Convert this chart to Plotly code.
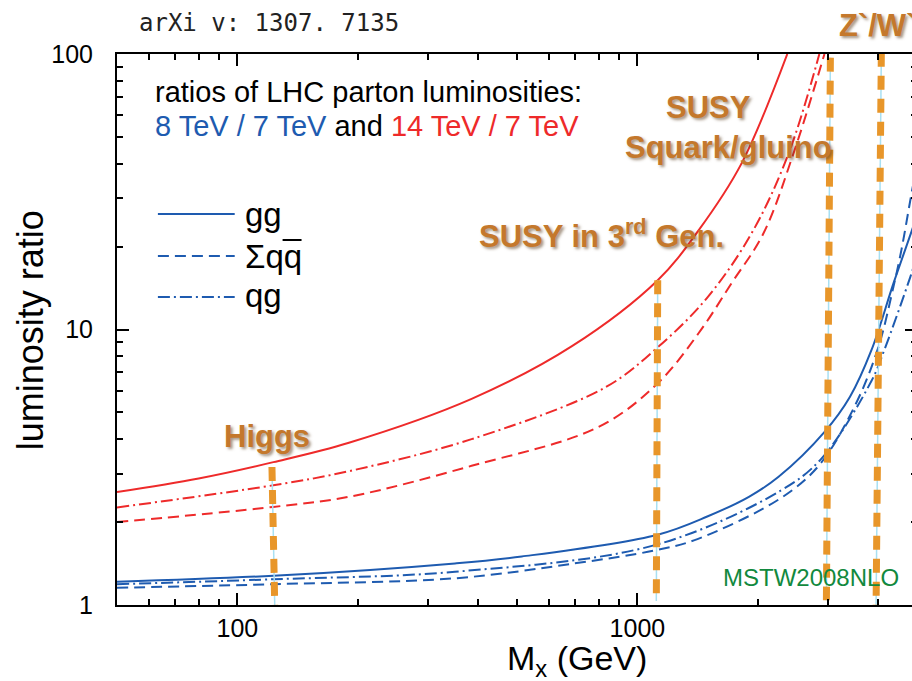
import math
import plotly.graph_objects as go

# ---- ratios of parton luminosities vs. invariant mass M_X (GeV) ----
# 14 TeV / 7 TeV
red_gg_m = [50, 80, 123, 190, 385, 686, 1124, 1422, 1820, 2370]
red_gg_r = [2.57, 2.88, 3.30, 3.88, 5.6, 8.7, 15.1, 22.9, 40.0, 100]
red_qq_m = [50, 123, 190, 385, 800, 1124, 1422, 1718, 2065, 2455, 2935]
red_qq_r = [2.0, 2.27, 2.47, 3.2, 4.43, 6.38, 9.69, 14.7, 22.3, 43.5, 100]
red_qg_m = [50, 123, 190, 385, 832, 1124, 1490, 1928, 2387, 2850]
red_qg_r = [2.26, 2.72, 3.06, 4.0, 6.17, 8.62, 12.98, 22.3, 43.5, 100]

# 8 TeV / 7 TeV
blue_gg_m = [50, 123, 350, 514, 1124, 1500, 1900, 2254, 2937, 3400, 3846, 4366, 4810, 5000]
blue_gg_r = [1.215, 1.277, 1.416, 1.50, 1.80, 2.10, 2.47, 2.92, 4.25, 5.7, 8.41, 14.7, 22.0, 26.0]
blue_qq_m = [50, 123, 350, 697, 1110, 1390, 2280, 2848, 3500, 4000, 4366, 4573, 4810, 5000]
blue_qq_r = [1.155, 1.19, 1.25, 1.416, 1.58, 1.72, 2.44, 3.22, 5.3, 8.6, 14.3, 19.5, 29.4, 40.0]
blue_qg_m = [50, 123, 350, 1106, 2280, 2885, 3846, 4140, 4810, 5000]
blue_qg_r = [1.19, 1.24, 1.32, 1.65, 2.6, 3.4, 6.5, 8.41, 15.5, 18.5]

legend_names = ["gg", "Σqq", "qg"]

# mass scales of interest: (mass at top, mass at bottom, ratio at top, ratio at bottom)
scale_m_top = [122, 1124, 3037, 4072]
scale_m_bot = [124, 1115, 2968, 3950]
scale_r_top = [3.17, 15.1, 97, 101]
scale_r_bot = [0.98, 1.035, 1.04, 0.97]

x_ticks = [100, 1000]
x_minor = [60, 70, 80, 90, 200, 300, 400, 500, 600, 700, 800, 900, 2000, 3000, 4000]
y_ticks = [1, 10, 100]
y_minor = [2, 3, 4, 5, 6, 7, 8, 9, 20, 30, 40, 50, 60, 70, 80, 90]

BLUE = "#1e5bb0"
RED = "#ee2a2a"
ORANGE = "#e8962a"
LABEL = "#c4782c"
SANS = "Liberation Sans, Arial, sans-serif"

W, H = 920, 681
L, R, T, B = 117, 1, 54, 76


def px(x):
    return (x - L) / (W - L - R)


def py(y):
    return (H - B - y) / (H - T - B)


fig = go.Figure()

DASH = "11px,6px"
DASHDOT = "12px,4px,2px,4px"
styles = ["solid", DASH, DASHDOT]

for m, r, dash, name in zip([blue_gg_m, blue_qq_m, blue_qg_m],
                            [blue_gg_r, blue_qq_r, blue_qg_r], styles, legend_names):
    fig.add_trace(go.Scatter(x=m, y=r, mode="lines", name=name,
                             line=dict(color=BLUE, width=2, dash=dash, shape="spline", smoothing=1.0)))

for m, r, dash in zip([red_gg_m, red_qq_m, red_qg_m],
                      [red_gg_r, red_qq_r, red_qg_r], styles):
    fig.add_trace(go.Scatter(x=m, y=r, mode="lines",
                             line=dict(color=RED, width=2, dash=dash, shape="spline", smoothing=1.0)))

for mt, mb, rt, rb in zip(scale_m_top, scale_m_bot, scale_r_top, scale_r_bot):
    fig.add_trace(go.Scatter(x=[mt, mb], y=[rt, rb], mode="lines",
                             line=dict(color="#a8e0f2", width=1.5), hoverinfo="skip"))
    fig.add_trace(go.Scatter(x=[mt, mb], y=[rt, rb], mode="lines",
                             line=dict(color=ORANGE, width=7, dash="14px,9px"), hoverinfo="skip"))

axis_common = dict(
    type="log", showgrid=False, zeroline=False,
    showline=True, linecolor="black", linewidth=2,
    ticks="inside", ticklen=12, tickwidth=1.5, tickcolor="black",
    mirror="allticks",
    tickfont=dict(family=SANS, size=25, color="black"),
)

fig.update_xaxes(
    **axis_common,
    range=[math.log10(50), math.log10(5000)],
    tickvals=x_ticks, ticktext=[str(v) for v in x_ticks],
    minor=dict(tickvals=x_minor, ticks="inside", ticklen=6, tickwidth=1.5, tickcolor="black", showgrid=False),
    ticklabelstandoff=0,
)
fig.update_yaxes(
    **axis_common,
    range=[0, 2],
    tickvals=y_ticks, ticktext=[str(v) for v in y_ticks],
    minor=dict(tickvals=y_minor, ticks="inside", ticklen=6, tickwidth=1.5, tickcolor="black", showgrid=False),
    ticklabelstandoff=17,
)

shadow = "2px 2px 3px rgba(90,60,30,0.55)"


def label(text, x, y, size=31, color=LABEL, xanchor="left", bold=True, fam=SANS, sh=None, angle=0):
    fig.add_annotation(
        text=text, x=px(x), y=py(y), xref="paper", yref="paper",
        xanchor=xanchor, yanchor="middle", showarrow=False, textangle=angle,
        font=dict(family=fam, size=size, color=color, weight="bold" if bold else "normal",
                  shadow=sh if sh else "none"),
    )


label("arXi v: 1307. 7135", 137, 23, size=24, color="#222222", bold=False, fam="DejaVu Sans Mono")
label("ratios of LHC parton luminosities:", 153, 92, size=29, color="black", bold=False)
label("<span style='color:%s'>8 TeV / 7 TeV</span> and <span style='color:%s'>14 TeV / 7 TeV</span>"
      % (BLUE, RED), 153, 126, size=29, color="black", bold=False)
label("MSTW2008NLO", 723, 577, size=24, color="#12893e", bold=False)
label("Higgs", 267, 436, xanchor="center", sh=shadow)
label("SUSY in 3<sup>rd</sup> Gen.", 478, 234, sh=shadow)
label("SUSY", 710, 108, xanchor="center", sh=shadow)
label("Squark/gluino", 730, 147, xanchor="center", sh=shadow)
label("Z`/W`", 839, 25, sh=shadow)
label("M<sub>x</sub> (GeV)", 506, 660, size=34, color="black", bold=False)
label("luminosity ratio", 30, 330, size=36, color="black", bold=False, xanchor="center", angle=-90)

# line-style key for the three parton channels
key_y = [214, 256, 297]
key_text_y = [215, 256, 295]
for name, dash, ly, ty in zip(legend_names, styles, key_y, key_text_y):
    fig.add_shape(type="line", xref="paper", yref="paper",
                  x0=px(158), x1=px(235), y0=py(ly), y1=py(ly),
                  line=dict(color=BLUE, width=2, dash=dash))
    label(name, 243, ty, size=33, color="black", bold=False)

# bar over the antiquark in the key
fig.add_shape(type="line", xref="paper", yref="paper",
              x0=px(283), x1=px(302), y0=py(240), y1=py(240),
              line=dict(color="black", width=2))

fig.update_layout(
    width=W, height=H, autosize=False,
    margin=dict(l=L, r=R, t=T, b=B, pad=0),
    paper_bgcolor="white", plot_bgcolor="white",
    showlegend=False,
)

fig.write_html("out.html", post_script=(
    "document.documentElement.style.overflow='hidden';"
    "document.body.style.overflow='hidden';document.body.style.margin='0';"))
